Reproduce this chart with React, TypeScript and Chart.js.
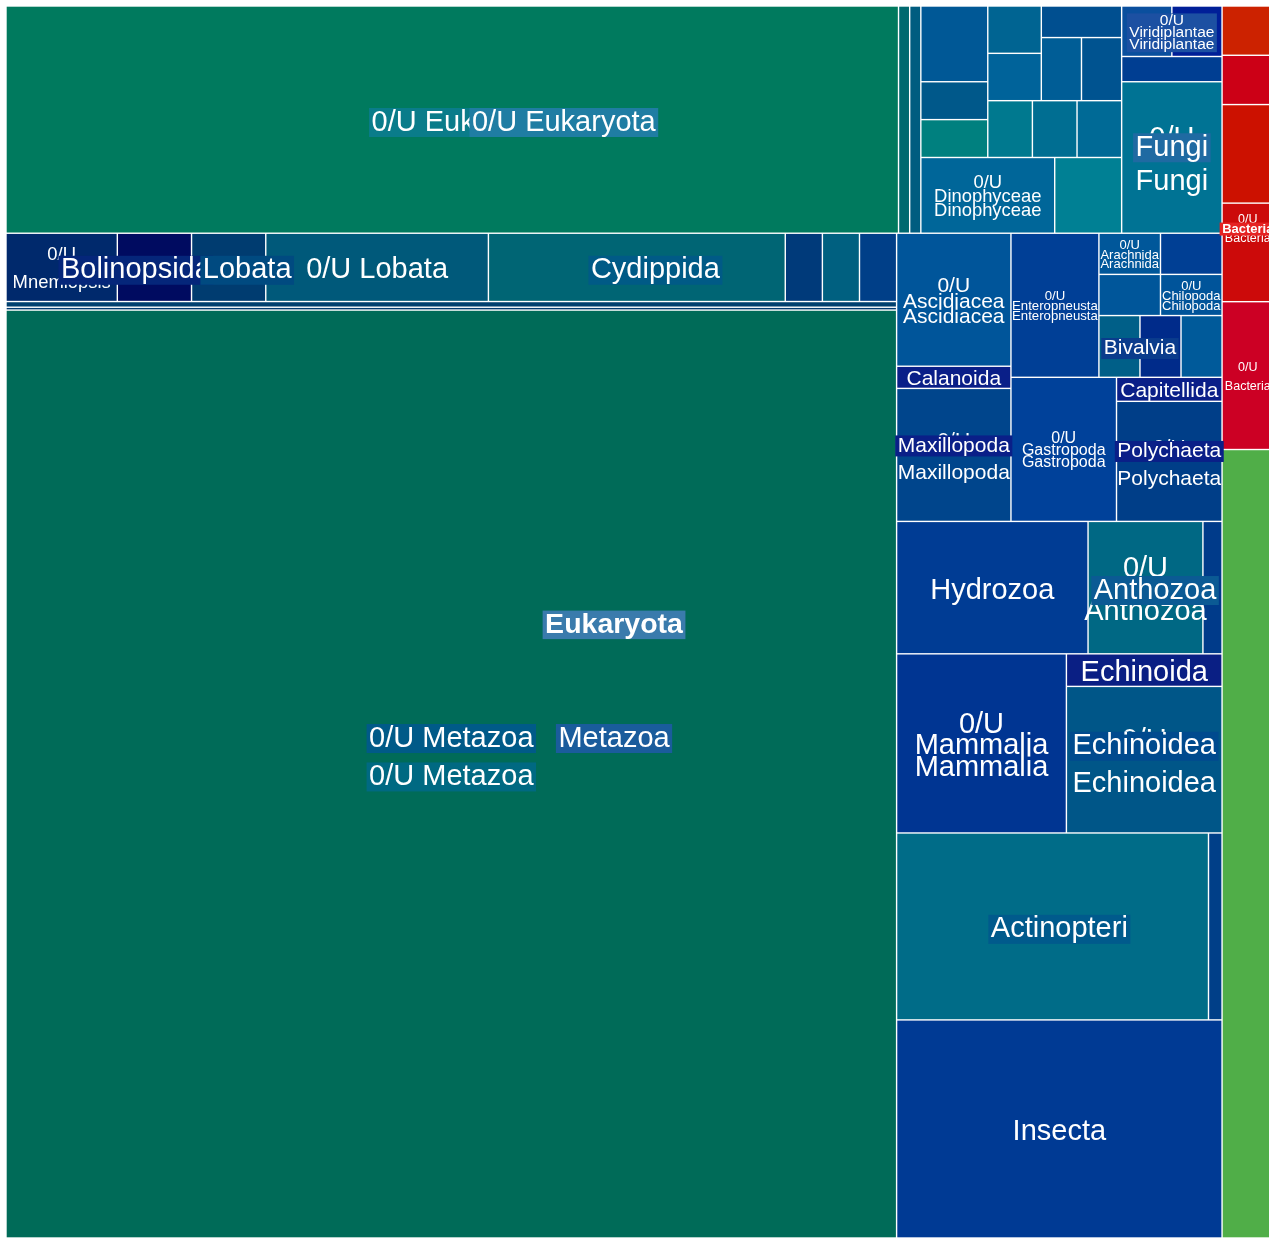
import React, { useEffect, useRef } from 'react';
import { Chart, registerables } from 'chart.js';

Chart.register(...registerables);

// ---------------- DATA: record counts per taxon (cell area is proportional to count) ----------------
const bacteriaCounts = [1, 1, 2, 2, 3]; // last one = 0/U Bacteria
const unassignedCounts = [16];
const eukUnknownCounts = [80, 1, 1]; // 0/U Eukaryota + two minor taxa
const protistCounts = [2, 1, 1, 1, 1, 1, 1, 1, 1, 1, 1];
const dinophyceaeCounts = [4, 2];
const viridiplantaeCounts = [1, 1];
const fungiCounts = [1, 6];
const ctenophoraCounts = [3, 2, 2, 6, 8, 1, 1, 1];
const metazoaUnknownCounts = [2, 1, 326];
const ascidiaceaCounts = [6];
const maxillopodaCounts = [1, 6];
const enteropneustaCounts = [5];
const smallTaxaCounts = [1, 1, 1, 1, 1, 1, 1];
const gastropodaCounts = [6];
const polychaetaCounts = [1, 5];
const cnidariaCounts = [10, 6, 1];
const mammaliaCounts = [12];
const echinoideaCounts = [2, 9];
const actinopteriCounts = [23, 1];
const insectaCounts = [28];

// ---------------- STYLES ----------------
const bacteriaColors = ['#cc2200', '#cc0016', '#cc1100', '#cc0a0a', '#cc0024'];
const unassignedColors = ['#50ae48'];
const eukUnknownColors = ['#007a5e', '#00696f', '#005d80'];
const protistColors = ['#005896', '#00588a', '#00807f', '#006492', '#00639a', '#004f90', '#005d96', '#005390', '#00798f', '#006e92', '#006a96'];
const dinophyceaeColors = ['#006699', '#008094'];
const viridiplantaeColors = ['#0a4f9e', '#001f98'];
const fungiColors = ['#003e92', '#007394'];
const ctenophoraColors = ['#00296c', '#000b60', '#003c70', '#00597a', '#006574', '#003a7a', '#006080', '#003f88'];
const metazoaUnknownColors = ['#00406f', '#003b70', '#006b58'];
const ascidiaceaColors = ['#00559a'];
const maxillopodaColors = ['#0a1f88', '#00458c'];
const enteropneustaColors = ['#003f96'];
const smallTaxaColors = ['#00579a', '#003f94', '#00569a', '#00549a', '#005f88', '#002b8a', '#005a9a'];
const gastropodaColors = ['#00419a'];
const polychaetaColors = ['#0a1f88', '#003e88'];
const cnidariaColors = ['#003c94', '#006884', '#003b8a'];
const mammaliaColors = ['#003592'];
const echinoideaColors = ['#0a1f84', '#005688'];
const actinopteriColors = ['#006c88', '#003f88'];
const insectaColors = ['#003a94'];

const DEFAULT_FONT = 29;
const labelFont: Record<string, number> = {
  eukaryota: 28.5, bacteria: 13, bact0U: 12.5, bac4: 12.5,
  virid: 15.5, virid0: 15.5, dino: 18.4, dino0: 18.4, c0: 18.4,
  ascidiacea: 21, asc0: 21, maxillopoda: 21, max0: 21, max1: 21,
  enteropneusta: 13.2, ent0: 13.2, arachnida: 13, s0: 13, chilopoda: 13, s3: 13,
  bivalvia: 21, gastropoda: 16, gas0: 16, polychaeta: 21, pol0: 21, pol1: 21,
};
const boldLabels = new Set(['eukaryota', 'bacteria']);
const labelBg: Record<string, string> = {
  eukaryota: '#3a7bac', bacteria: '#e52222', kingdom0U: '#1f7da3', phylum0U: '#0a7c8a',
  metazoa: '#1a5c9c', met0U: '#005a88', m2: '#006982', virid0: '#1c50a2', fungi: '#1f6aa2',
  lobata: '#004a80', bolinopsida: '#05267a', cydippida: '#005a86', maxillopoda: '#0a1f88',
  polychaeta: '#0a1f88', bivalvia: '#0a3c8c', anthozoa: '#0b5a94', echinoidea: '#004a8e',
  actinopteri: '#005a8c',
};

// ---------------- TREE ----------------
type Node = { id: string; label?: string; dir?: 'h' | 'v'; kids?: Node[]; value?: number; color?: string };
const leaf = (id: string, value: number, color: string, label?: string): Node => ({ id, value, color, label });
const group = (id: string, dir: 'h' | 'v', kids: Node[], label?: string): Node => ({ id, dir, kids, label });

function buildTree(): Node {
  const P = (i: number) => leaf('p' + i, protistCounts[i], protistColors[i]);
  const C = (i: number, label?: string) => leaf('c' + i, ctenophoraCounts[i], ctenophoraColors[i], label);
  const S = (i: number, label?: string) => leaf('s' + i, smallTaxaCounts[i], smallTaxaColors[i], label);

  const eukaryota = group('eukaryota', 'v', [
    group('rowA', 'h', [
      group('kingdom0U', 'h', [
        group('phylum0U', 'h', eukUnknownCounts.map((v, i) => leaf('eu' + i, v, eukUnknownColors[i])), '0/U Eukaryota'),
        group('protists', 'v', [
          group('pTop', 'h', [
            group('pColA', 'v', [P(0), P(1), P(2)]),
            group('pRest', 'v', [
              group('pUpper', 'h', [
                group('pColB', 'v', [P(3), P(4)]),
                group('pColC', 'v', [P(5), group('pColCb', 'h', [P(6), P(7)])]),
              ]),
              group('pLower', 'h', [P(8), P(9), P(10)]),
            ]),
          ]),
          group('pBottom', 'h', [
            group('dino', 'v', [leaf('dino0', dinophyceaeCounts[0], dinophyceaeColors[0], '0/U Dinophyceae')], 'Dinophyceae'),
            leaf('dino1', dinophyceaeCounts[1], dinophyceaeColors[1]),
          ]),
        ]),
      ], '0/U Eukaryota'),
      group('rightSub', 'v', [
        group('virid', 'v', [
          group('virid0', 'h', viridiplantaeCounts.map((v, i) => leaf('vi' + i, v, viridiplantaeColors[i])), '0/U Viridiplantae'),
        ], 'Viridiplantae'),
        group('fungi', 'v', [
          leaf('fu0', fungiCounts[0], fungiColors[0]),
          leaf('fu1', fungiCounts[1], fungiColors[1], '0/U Fungi'),
        ], 'Fungi'),
      ]),
    ]),
    group('metazoa', 'h', [
      group('met0U', 'v', [
        group('ctenoRow', 'h', [
          group('lobata', 'h', [
            group('bolinopsida', 'h', [C(0, '0/U Mnemiopsis'), C(1), C(2)], 'Bolinopsida'),
            C(3, '0/U Lobata'),
          ], 'Lobata'),
          group('cydippida', 'h', [C(4), C(5)], 'Cydippida'),
          C(6), C(7),
        ]),
        leaf('m0', metazoaUnknownCounts[0], metazoaUnknownColors[0]),
        leaf('m1', metazoaUnknownCounts[1], metazoaUnknownColors[1]),
        leaf('m2', metazoaUnknownCounts[2], metazoaUnknownColors[2], '0/U Metazoa'),
      ], '0/U Metazoa'),
      group('rightCol', 'v', [
        group('b1', 'h', [
          group('b1L', 'v', [
            group('ascidiacea', 'v', [leaf('asc0', ascidiaceaCounts[0], ascidiaceaColors[0], '0/U Ascidiacea')], 'Ascidiacea'),
            group('maxillopoda', 'v', [
              leaf('max0', maxillopodaCounts[0], maxillopodaColors[0], 'Calanoida'),
              leaf('max1', maxillopodaCounts[1], maxillopodaColors[1], '0/U Maxillopoda'),
            ], 'Maxillopoda'),
          ]),
          group('b1R', 'v', [
            group('b1Rt', 'h', [
              group('enteropneusta', 'v', [leaf('ent0', enteropneustaCounts[0], enteropneustaColors[0], '0/U Enteropneusta')], 'Enteropneusta'),
              group('smallBlk', 'v', [
                group('sb1', 'h', [group('arachnida', 'v', [S(0, '0/U Arachnida')], 'Arachnida'), S(1)]),
                group('sb2', 'h', [S(2), group('chilopoda', 'v', [S(3, '0/U Chilopoda')], 'Chilopoda')]),
                group('sb3', 'h', [group('bivalvia', 'h', [S(4), S(5)], 'Bivalvia'), S(6)]),
              ]),
            ]),
            group('b1Rb', 'h', [
              group('gastropoda', 'v', [leaf('gas0', gastropodaCounts[0], gastropodaColors[0], '0/U Gastropoda')], 'Gastropoda'),
              group('polychaeta', 'v', [
                leaf('pol0', polychaetaCounts[0], polychaetaColors[0], 'Capitellida'),
                leaf('pol1', polychaetaCounts[1], polychaetaColors[1], '0/U Polychaeta'),
              ], 'Polychaeta'),
            ]),
          ]),
        ]),
        group('b2', 'h', [
          leaf('hyd', cnidariaCounts[0], cnidariaColors[0], 'Hydrozoa'),
          group('anthozoa', 'h', [
            leaf('ant0', cnidariaCounts[1], cnidariaColors[1], '0/U Anthozoa'),
            leaf('ant1', cnidariaCounts[2], cnidariaColors[2]),
          ], 'Anthozoa'),
        ]),
        group('b3', 'h', [
          group('mammalia', 'v', [leaf('mam0', mammaliaCounts[0], mammaliaColors[0], '0/U Mammalia')], 'Mammalia'),
          group('echinoidea', 'v', [
            leaf('ech0', echinoideaCounts[0], echinoideaColors[0], 'Echinoida'),
            leaf('ech1', echinoideaCounts[1], echinoideaColors[1], '0/U Echinoidea'),
          ], 'Echinoidea'),
        ]),
        group('actinopteri', 'h', [
          leaf('act0', actinopteriCounts[0], actinopteriColors[0]),
          leaf('act1', actinopteriCounts[1], actinopteriColors[1]),
        ], 'Actinopteri'),
        leaf('insecta', insectaCounts[0], insectaColors[0], 'Insecta'),
      ]),
    ], 'Metazoa'),
  ], 'Eukaryota');

  const others = group('col2', 'v', [
    group('bacteria', 'v', [
      group('bact0U', 'v', bacteriaCounts.map((v, i) =>
        leaf('bac' + i, v, bacteriaColors[i], i === bacteriaCounts.length - 1 ? '0/U Bacteria' : undefined)), '0/U Bacteria'),
    ], 'Bacteria'),
    leaf('unassigned', unassignedCounts[0], unassignedColors[0]),
  ]);

  return group('root', 'h', [eukaryota, others]);
}

const TREE = buildTree();

type Cell = { node: Node; x0: number; y0: number; x1: number; y1: number; depth: number };

function total(n: Node): number {
  return n.kids ? n.kids.reduce((s, k) => s + total(k), 0) : n.value || 0;
}

function layout(n: Node, x0: number, y0: number, x1: number, y1: number, depth: number, out: Cell[]) {
  out.push({ node: n, x0, y0, x1, y1, depth });
  if (!n.kids) return;
  const t = total(n);
  let acc = 0;
  for (const k of n.kids) {
    const v = total(k);
    if (n.dir === 'h') {
      layout(k, x0 + ((x1 - x0) * acc) / t, y0, x0 + ((x1 - x0) * (acc + v)) / t, y1, depth + 1, out);
    } else {
      layout(k, x0, y0 + ((y1 - y0) * acc) / t, x1, y0 + ((y1 - y0) * (acc + v)) / t, depth + 1, out);
    }
    acc += v;
  }
}

const treemapPlugin = {
  id: 'taxonTreemap',
  afterDatasetsDraw(chart: any) {
    const { ctx } = chart;
    const xs = chart.scales.x;
    const ys = chart.scales.y;
    const cells: Cell[] = [];
    layout(TREE, 0, 0, 1, 1, 0, cells);
    const gap = 0.7;
    const rectOf = (c: Cell) => {
      const px0 = xs.getPixelForValue(c.x0);
      const px1 = xs.getPixelForValue(c.x1);
      const py0 = ys.getPixelForValue(c.y0);
      const py1 = ys.getPixelForValue(c.y1);
      return { x: px0, y: py0, w: px1 - px0, h: py1 - py0 };
    };
    ctx.save();
    for (const c of cells) {
      if (c.node.kids) continue;
      const r = rectOf(c);
      ctx.fillStyle = c.node.color;
      ctx.fillRect(r.x + gap, r.y + gap, r.w - 2 * gap, r.h - 2 * gap);
    }
    const labelled = cells.filter((c) => c.node.label).sort((a, b) => b.depth - a.depth);
    ctx.textAlign = 'center';
    ctx.textBaseline = 'middle';
    for (const c of labelled) {
      const id = c.node.id;
      const r = rectOf(c);
      const size = labelFont[id] ?? DEFAULT_FONT;
      ctx.font = `${boldLabels.has(id) ? 'bold ' : ''}${size}px "Liberation Sans", Arial, sans-serif`;
      const text = c.node.label as string;
      let lines = [text];
      const sp = text.indexOf(' ');
      if (ctx.measureText(text).width > r.w && sp > 0) lines = [text.slice(0, sp), text.slice(sp + 1)];
      const lh = size * 1.5;
      const cx = r.x + r.w / 2;
      const cy = r.y + r.h / 2 + size * 0.1;
      const top = cy - ((lines.length - 1) * lh) / 2;
      const bg = labelBg[id];
      if (bg) {
        const tw = Math.max(...lines.map((l) => ctx.measureText(l).width)) + 5;
        const th = (lines.length - 1) * lh + size;
        ctx.fillStyle = bg;
        ctx.fillRect(cx - tw / 2, top - size / 2, tw, th);
      }
      ctx.fillStyle = '#ffffff';
      lines.forEach((l, i) => ctx.fillText(l, cx, top + i * lh));
    }
    ctx.restore();
  },
};

export default function App() {
  const ref = useRef<HTMLCanvasElement | null>(null);
  useEffect(() => {
    if (!ref.current) return;
    const chart = new Chart(ref.current, {
      type: 'scatter',
      data: { datasets: [{ data: [], pointRadius: 0 }] },
      options: {
        animation: false,
        responsive: false,
        events: [],
        layout: { padding: { left: 6, top: 6, right: 6.5, bottom: 6 } },
        scales: {
          x: { type: 'linear', min: 0, max: 1, display: false },
          y: { type: 'linear', min: 0, max: 1, reverse: true, display: false },
        },
        plugins: { legend: { display: false }, tooltip: { enabled: false } },
      },
      plugins: [treemapPlugin],
    } as any);
    return () => chart.destroy();
  }, []);
  return (
    <>
      <style>{`html,body{margin:0;padding:0;overflow:hidden;background:#fff}`}</style>
      <canvas ref={ref} width={1280} height={1244} style={{ display: 'block' }} />
    </>
  );
}
